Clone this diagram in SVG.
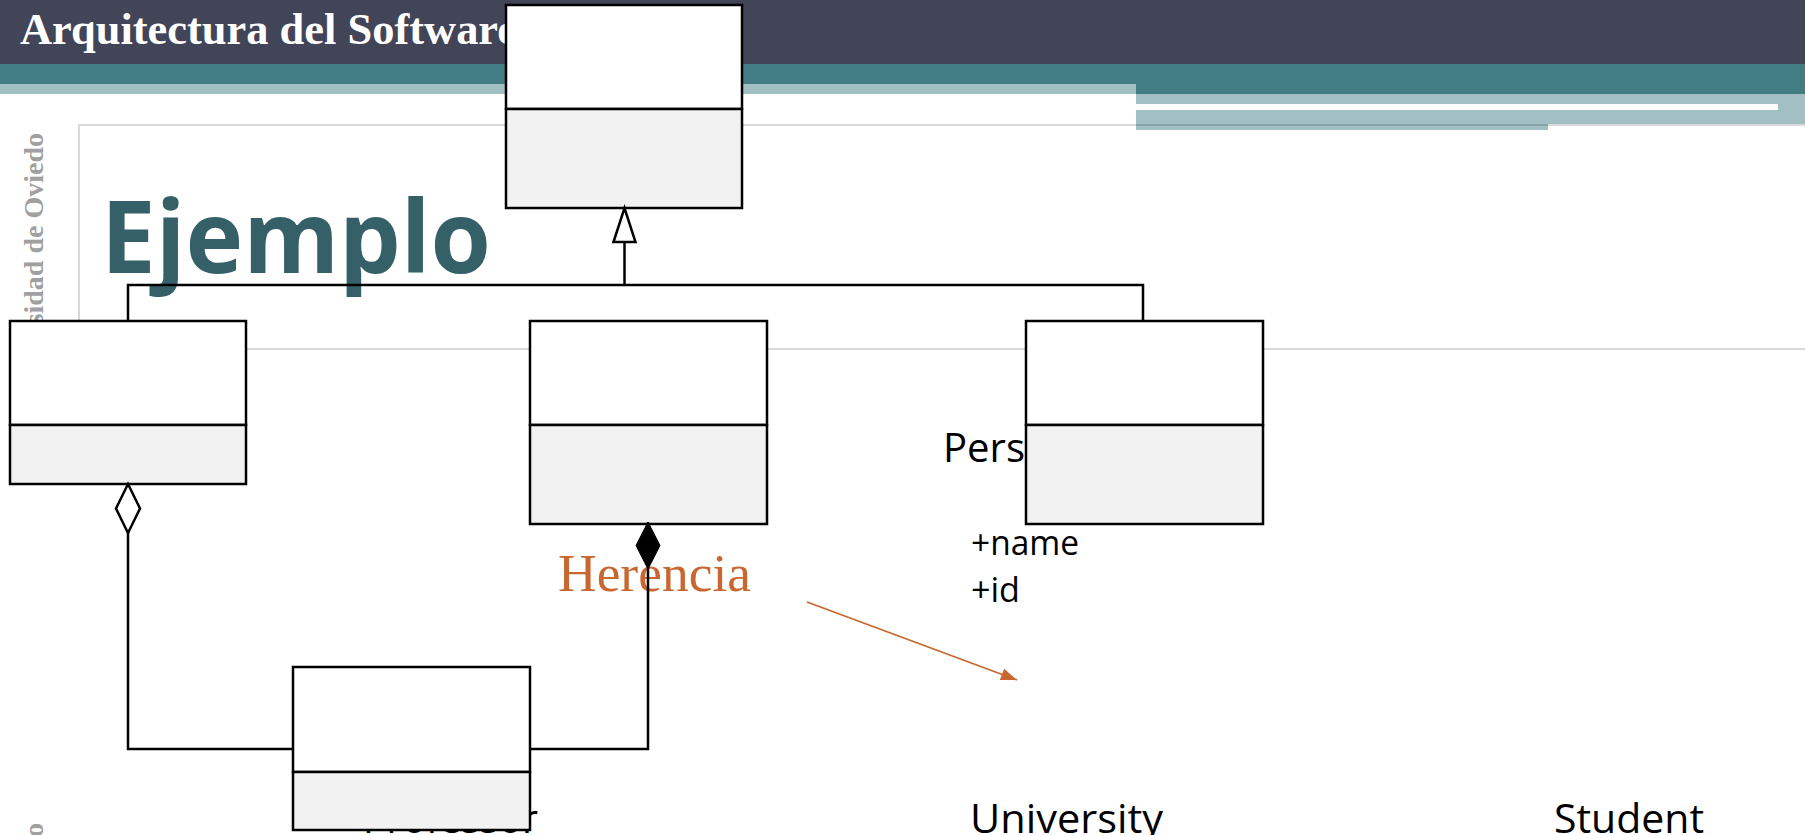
<svg xmlns="http://www.w3.org/2000/svg" width="1805" height="835" viewBox="0 0 1805 835">
  <defs>
    <style>
      .box-top { fill: #ffffff; stroke: #000000; stroke-width: 2.5; }
      .box-bottom { fill: #f2f2f2; stroke: #000000; stroke-width: 2.5; }
      .edge { fill: none; stroke: #000000; stroke-width: 2.5; stroke-linejoin: miter; }
      .note-edge { fill: none; stroke: #c8672f; stroke-width: 1.8; }
      .label { font-family: "Open Sans", "Liberation Sans", sans-serif; fill: #000000; }
      .side { font-family: "Liberation Serif", serif; font-weight: bold; font-size: 28px; fill: #a0a0a0; }
      .frame { fill: none; stroke: #000000; stroke-opacity: 0.15; stroke-width: 2; }
    </style>
    <!-- UML generalization: hollow triangle -->
    <marker id="gen" markerUnits="userSpaceOnUse" viewBox="0 0 34 22" refX="34" refY="11" markerWidth="34" markerHeight="22" orient="auto" overflow="visible">
      <path d="M0,0 L34,11 L0,22 Z" fill="#ffffff" stroke="#000000" stroke-width="2.5" stroke-linejoin="miter"/>
    </marker>
    <!-- UML aggregation: hollow diamond -->
    <marker id="agg" markerUnits="userSpaceOnUse" viewBox="0 0 49 24" refX="49" refY="12" markerWidth="49" markerHeight="24" orient="auto" overflow="visible">
      <path d="M0,12 L24.5,0 L49,12 L24.5,24 Z" fill="#ffffff" stroke="#000000" stroke-width="2.5"/>
    </marker>
    <!-- UML composition: filled diamond -->
    <marker id="comp" markerUnits="userSpaceOnUse" viewBox="0 0 47 24" refX="47" refY="12" markerWidth="47" markerHeight="24" orient="auto" overflow="visible">
      <path d="M0,12 L23.5,0 L47,12 L23.5,24 Z" fill="#000000" stroke="#000000" stroke-width="1"/>
    </marker>
    <!-- callout arrow head -->
    <marker id="note-head" markerUnits="userSpaceOnUse" viewBox="0 0 16 12" refX="16" refY="6" markerWidth="16" markerHeight="12" orient="auto" overflow="visible">
      <path d="M0,0 L16,6 L0,12 Z" fill="#c8672f"/>
    </marker>
  </defs>

  <rect x="0" y="0" width="1805" height="835" fill="#ffffff"/>

  <!-- slide header bands -->
  <g id="header">
    <rect x="0" y="0" width="1805" height="64" fill="#424457"/>
    <rect x="0" y="64" width="1805" height="30" fill="#427d84"/>
    <rect x="0" y="84" width="1136" height="10" fill="#a2bfc3"/>
    <rect x="1136" y="94" width="669" height="30" fill="#a2bfc3"/>
    <rect x="1136" y="124" width="412" height="6" fill="#a2bfc3"/>
    <rect x="1136" y="104" width="642" height="6" fill="#ffffff"/>
    <text x="20" y="44" font-family="Liberation Serif, serif" font-weight="bold" font-size="44" fill="#ffffff" textLength="497" lengthAdjust="spacingAndGlyphs">Arquitectura del Software</text>
  </g>

  <!-- content frame -->
  <rect class="frame" x="79" y="125" width="1760" height="224"/>

  <!-- side captions -->
  <text class="side" transform="translate(43,133) rotate(-90)" text-anchor="end">Universidad de Oviedo</text>
  <text class="side" transform="translate(43,823) rotate(-90)" text-anchor="end">o</text>

  <!-- slide title -->
  <text x="101" y="273" font-family="Open Sans, Liberation Sans, sans-serif" font-weight="bold" font-size="101" fill="#356068" textLength="390" lengthAdjust="spacingAndGlyphs">Ejemplo</text>

  <!-- class names and attributes -->
  <g id="labels">
    <text class="label" x="943" y="462" font-size="41" textLength="82" lengthAdjust="spacingAndGlyphs">Pers</text>
    <text class="label" x="971" y="555" font-size="34" textLength="108" lengthAdjust="spacingAndGlyphs">+name</text>
    <text class="label" x="971" y="602" font-size="34" textLength="49" lengthAdjust="spacingAndGlyphs">+id</text>
    <text class="label" x="363" y="833" font-size="41" textLength="175" lengthAdjust="spacingAndGlyphs">Professor</text>
    <text class="label" x="970" y="833" font-size="41" textLength="193" lengthAdjust="spacingAndGlyphs">University</text>
    <text class="label" x="1554" y="833" font-size="41" textLength="150" lengthAdjust="spacingAndGlyphs">Student</text>
    <text x="558" y="591" font-family="Liberation Serif, serif" font-size="53" fill="#c8672f" textLength="193" lengthAdjust="spacingAndGlyphs">Herencia</text>
  </g>

  <!-- classes -->
  <g id="class-top">
    <rect class="box-top" x="506" y="5" width="236" height="104"/>
    <rect class="box-bottom" x="506" y="109" width="236" height="99"/>
  </g>
  <g id="class-left">
    <rect class="box-top" x="10" y="321" width="236" height="104"/>
    <rect class="box-bottom" x="10" y="425" width="236" height="59"/>
  </g>
  <g id="class-middle">
    <rect class="box-top" x="530" y="321" width="237" height="104"/>
    <rect class="box-bottom" x="530" y="425" width="237" height="99"/>
  </g>
  <g id="class-right">
    <rect class="box-top" x="1026" y="321" width="237" height="104"/>
    <rect class="box-bottom" x="1026" y="425" width="237" height="99"/>
  </g>
  <g id="class-bottom">
    <rect class="box-top" x="293" y="667" width="237" height="105"/>
    <rect class="box-bottom" x="293" y="772" width="237" height="58"/>
  </g>

  <!-- relationships -->
  <g id="connectors">
    <polyline class="edge" points="128,321 128,285 1143,285 1143,321"/>
    <line class="edge" x1="624.5" y1="285" x2="624.5" y2="208" marker-end="url(#gen)"/>
    <polyline class="edge" points="293,749 128,749 128,484" marker-end="url(#agg)"/>
    <polyline class="edge" points="530,749 648,749 648,522" marker-end="url(#comp)"/>
    <line class="note-edge" x1="807" y1="602" x2="1017" y2="680" marker-end="url(#note-head)"/>
  </g>
</svg>
